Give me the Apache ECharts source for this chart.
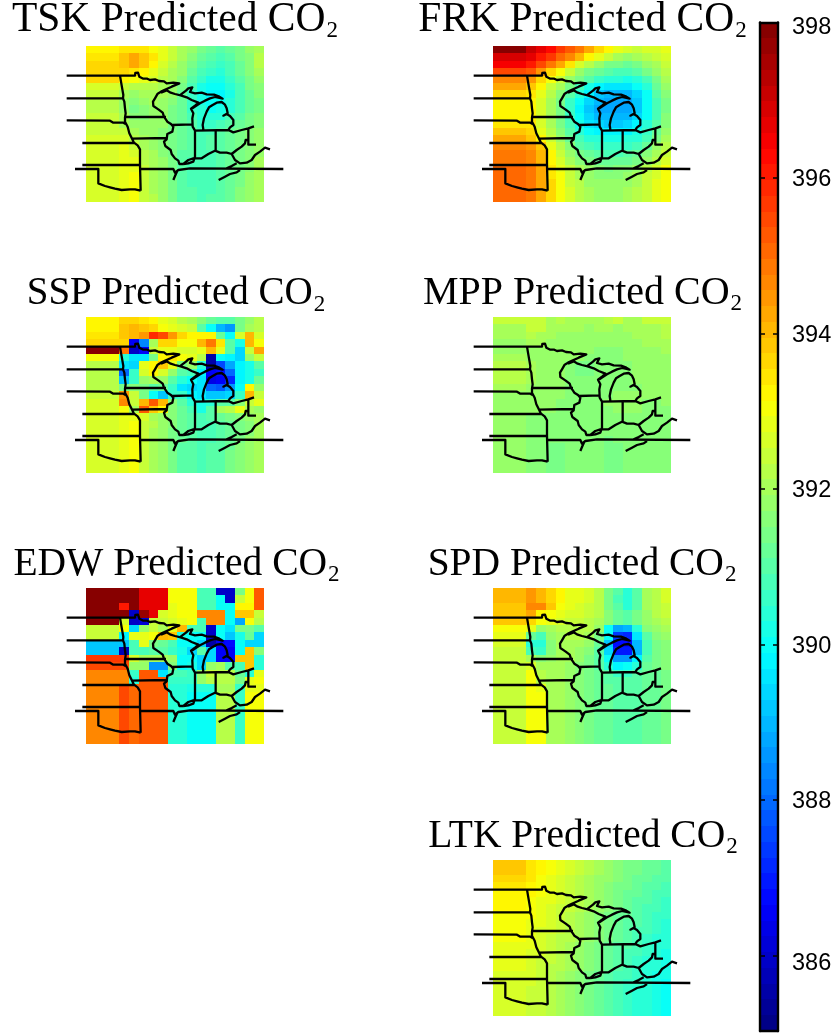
<!DOCTYPE html>
<html><head><meta charset="utf-8">
<style>html,body{margin:0;padding:0;background:#fff}#c{width:838px;height:1034px}</style>
<script src="https://cdn.jsdelivr.net/npm/echarts@6/dist/echarts.min.js"></script>
</head><body><div id="c"></div>
<script>
const colEdges=[78,178,207,237,266,295,323,352,381,410,438,467,496,525,554,583,612];
const rowCount=21;
const mapTop=138,mapBottom=605,mapLeft=20,mapRight=670;
const tskValues=[
[393.3,393.5,393.5,393.4,393.0,392.8,392.4,392.0,391.8,391.5,391.2,391.0,391.2,391.5,391.8,392.0],
[393.5,393.9,394.2,393.9,393.4,392.9,392.4,392.0,391.7,391.2,391.0,390.9,391.1,391.4,391.7,392.2],
[393.6,393.9,394.2,393.8,393.2,392.7,392.2,391.9,391.5,391.1,390.8,390.7,390.9,391.3,391.6,392.3],
[393.7,393.6,393.5,393.2,392.9,392.5,392.1,391.8,391.3,390.9,390.6,390.5,390.8,391.2,391.6,392.0],
[393.7,393.3,393.0,392.8,392.6,392.3,392.0,391.6,391.0,390.6,390.2,390.2,390.6,391.1,391.5,391.8],
[392.7,392.4,392.3,392.3,392.3,392.1,391.9,391.4,390.8,390.2,389.9,389.9,390.3,390.9,391.4,391.7],
[392.4,392.0,391.9,392.0,392.1,392.0,391.8,391.3,390.7,390.1,389.7,389.7,390.2,390.8,391.3,391.6],
[392.3,391.8,391.6,391.8,392.0,391.9,391.6,391.2,390.6,390.2,389.9,389.9,390.3,390.8,391.3,391.5],
[392.3,391.8,391.5,391.7,391.9,391.8,391.5,391.2,390.7,390.3,390.0,390.1,390.5,390.9,391.3,391.5],
[392.4,392.0,391.6,391.7,391.9,391.8,391.5,391.2,390.8,390.5,390.4,390.5,390.8,391.1,391.4,391.6],
[392.4,392.1,391.8,391.8,391.9,391.8,391.5,391.2,391.0,390.7,390.7,390.8,391.0,391.2,391.5,391.7],
[392.5,392.4,392.0,391.9,391.9,391.7,391.5,391.2,391.0,390.9,390.9,391.0,391.2,391.4,391.6,391.8],
[392.6,392.7,392.3,392.0,391.9,391.7,391.4,391.2,391.0,390.9,391.0,391.1,391.2,391.4,391.6,391.8],
[392.6,392.9,392.5,392.1,391.9,391.7,391.4,391.2,391.0,390.9,391.0,391.1,391.2,391.4,391.6,391.9],
[392.6,392.9,392.7,392.2,392.0,391.7,391.4,391.1,391.0,390.9,390.9,391.0,391.2,391.4,391.7,391.9],
[392.6,392.8,392.8,392.3,392.0,391.8,391.4,391.1,390.9,390.9,390.9,391.0,391.2,391.5,391.7,392.0],
[392.6,392.8,392.9,392.4,392.1,391.8,391.4,391.1,390.9,390.9,390.9,391.0,391.2,391.5,391.7,392.0],
[392.6,392.8,393.0,392.4,392.1,391.8,391.4,391.1,390.9,390.8,390.9,391.0,391.3,391.5,391.8,392.0],
[392.6,392.8,393.0,392.4,392.1,391.8,391.4,391.1,390.9,390.8,390.9,391.0,391.3,391.5,391.8,392.0],
[392.6,392.8,393.0,392.5,392.1,391.8,391.4,391.1,391.0,390.9,390.9,391.1,391.3,391.6,391.8,392.0],
[392.6,392.8,393.0,392.5,392.2,391.8,391.4,391.1,391.0,390.9,391.0,391.1,391.3,391.6,391.8,392.1]];
const frkValues=[
[397.8,397.0,396.6,396.3,395.7,395.2,394.8,394.2,393.7,393.2,392.9,392.7,392.5,392.6,392.7,392.8],
[396.9,396.6,396.1,395.6,395.1,394.6,394.0,393.3,392.8,392.4,392.1,391.9,392.0,392.2,392.4,392.6],
[396.4,396.0,395.5,394.8,394.2,393.4,392.7,392.2,391.8,391.5,391.4,391.3,391.5,391.8,392.1,392.4],
[395.5,395.2,394.5,393.7,393.0,392.4,391.9,391.5,391.2,391.0,390.8,390.8,391.0,391.4,391.8,392.2],
[394.7,394.4,393.6,393.0,392.4,391.9,391.4,391.0,390.6,390.4,390.3,390.2,390.5,390.9,391.5,392.0],
[394.2,393.8,393.2,392.5,392.0,391.4,390.8,390.2,389.8,389.6,389.5,389.6,389.9,390.5,391.2,391.8],
[393.6,393.4,392.8,392.2,391.7,391.0,390.3,389.7,389.2,389.0,388.9,389.0,389.4,390.0,391.0,391.6],
[393.2,393.2,392.6,392.0,391.5,390.7,390.0,389.3,388.9,388.7,388.7,388.7,389.1,389.9,390.9,391.5],
[393.2,393.2,392.6,392.0,391.4,390.6,389.8,389.2,388.8,388.7,388.7,388.8,389.2,389.9,390.8,391.5],
[393.2,393.3,392.7,392.0,391.4,390.7,389.9,389.3,389.0,388.9,388.9,389.0,389.4,390.0,390.9,391.6],
[393.4,393.4,392.7,392.1,391.5,390.8,390.1,389.6,389.3,389.2,389.2,389.3,389.7,390.3,391.0,391.7],
[393.8,393.6,392.9,392.3,391.7,391.0,390.5,390.0,389.8,389.7,389.7,389.8,390.1,390.6,391.2,391.8],
[394.3,393.9,393.3,392.5,391.9,391.3,390.8,390.5,390.3,390.2,390.2,390.3,390.5,390.9,391.5,392.0],
[394.7,394.4,393.9,392.9,392.2,391.6,391.1,390.9,390.7,390.6,390.6,390.7,390.9,391.3,391.8,392.3],
[394.8,394.6,394.0,393.2,392.4,391.9,391.4,391.2,391.0,390.9,390.9,391.0,391.2,391.6,392.0,392.5],
[394.9,394.7,394.1,393.3,392.7,392.1,391.7,391.5,391.3,391.2,391.2,391.3,391.5,391.8,392.3,392.7],
[395.0,394.8,394.2,393.5,392.9,392.4,392.0,391.8,391.6,391.5,391.6,391.7,391.9,392.3,392.7,393.0],
[395.0,394.8,394.2,393.5,393.0,392.5,392.1,391.9,391.7,391.7,391.7,391.8,392.0,392.4,392.7,393.0],
[395.0,394.9,394.2,393.6,393.0,392.5,392.2,391.9,391.8,391.8,391.8,391.9,392.1,392.4,392.8,393.1],
[395.1,394.9,394.2,393.6,393.1,392.6,392.3,392.0,391.9,391.9,391.9,392.0,392.2,392.5,392.8,393.1],
[395.1,394.9,394.3,393.6,393.1,392.6,392.3,392.0,391.9,391.9,391.9,392.0,392.2,392.5,392.8,393.1]];
const sspValues=[
[393.2,393.6,393.6,393.5,393.2,392.9,392.7,392.3,392.0,391.6,391.2,391.0,391.0,391.5,391.8,392.2],
[393.2,393.8,394.1,393.8,393.6,393.0,392.8,392.6,392.5,391.0,390.0,388.9,388.6,391.5,392.0,392.3],
[393.5,393.9,394.1,394.4,395.9,395.4,394.5,393.7,393.2,393.2,393.2,391.3,390.0,392.6,394.0,392.6],
[393.6,393.6,386.5,388.4,392.0,393.6,393.7,393.0,393.0,394.1,394.8,393.5,391.0,390.2,394.0,393.0],
[397.8,394.8,386.0,386.6,392.5,392.8,392.8,392.7,392.6,392.8,394.0,392.8,391.0,389.3,392.5,394.2],
[393.0,390.5,389.6,389.6,391.5,393.3,393.4,393.0,392.8,392.2,385.6,390.0,389.8,389.4,391.9,392.4],
[392.2,389.6,389.4,392.8,393.3,393.8,392.8,391.5,391.9,390.5,385.6,387.5,388.7,389.8,390.2,391.0],
[392.2,387.9,390.6,392.6,393.2,392.7,391.9,391.0,390.8,389.8,386.6,386.7,388.0,389.8,390.2,390.6],
[392.3,389.1,390.6,391.8,392.0,391.9,391.0,390.4,390.0,389.6,386.3,386.5,387.2,389.7,390.2,391.3],
[392.3,391.5,391.7,391.5,391.0,391.2,390.7,389.6,389.3,389.5,387.9,387.8,388.5,389.9,393.2,391.8],
[392.4,394.5,392.4,391.5,390.0,389.2,390.6,390.7,389.7,389.6,389.2,389.2,389.3,390.6,394.0,392.4],
[392.6,394.6,392.5,394.1,395.2,394.1,391.7,391.0,390.5,390.2,390.5,391.0,391.0,391.6,392.5,392.9],
[392.6,393.0,392.0,395.2,393.9,393.2,391.7,391.3,390.8,390.1,391.0,392.0,392.3,392.8,392.0,391.9],
[392.6,392.8,392.9,392.6,392.1,391.9,391.7,391.3,391.0,390.9,391.0,391.2,391.4,391.6,391.9,392.1],
[392.6,392.8,393.0,392.5,392.2,391.9,391.6,391.3,391.0,390.9,390.9,391.0,391.2,391.4,391.7,392.0],
[392.6,392.8,393.0,392.5,392.1,391.9,391.5,391.2,391.0,390.9,390.9,391.0,391.2,391.5,391.7,392.0],
[392.6,392.8,393.0,392.4,392.1,391.8,391.5,391.2,391.0,390.9,390.9,391.0,391.3,391.5,391.8,392.0],
[392.6,392.8,393.0,392.4,392.1,391.8,391.4,391.1,391.0,390.9,391.0,391.1,391.3,391.6,391.8,392.1],
[392.6,392.8,393.0,392.4,392.1,391.8,391.4,391.1,391.0,390.9,391.0,391.1,391.4,391.6,391.8,392.1],
[392.6,392.8,393.0,392.4,392.1,391.8,391.4,391.1,391.0,390.9,391.0,391.1,391.4,391.6,391.8,392.1],
[392.6,392.8,393.0,392.4,392.1,391.8,391.4,391.1,391.0,390.9,391.0,391.1,391.4,391.6,391.8,392.1]];
const mppValues=[
[392.4,392.5,392.5,392.1,392.3,392.1,392.1,392.1,392.1,392.3,392.4,392.1,392.1,392.4,392.5,392.5],
[392.0,392.4,392.4,392.1,392.0,392.0,392.0,391.9,392.0,392.0,391.9,392.0,392.0,392.1,392.1,392.3],
[392.0,392.3,392.1,392.0,391.9,391.9,391.9,391.9,391.9,391.9,391.9,391.9,392.0,392.1,392.1,392.3],
[391.9,392.0,392.0,391.9,391.9,391.8,391.8,391.8,391.8,391.8,391.8,391.9,391.9,392.0,392.0,392.1],
[391.9,391.9,391.9,391.9,391.9,391.8,391.8,391.8,391.7,391.6,391.7,391.8,391.9,391.9,391.9,392.0],
[392.0,391.9,391.9,391.9,391.9,391.8,391.8,391.7,391.7,391.7,391.7,391.8,391.8,391.9,391.9,391.9],
[392.2,392.0,391.9,391.8,391.8,391.7,391.5,391.5,391.7,391.7,391.7,391.7,391.8,391.8,391.9,391.9],
[392.3,392.1,391.9,391.8,391.8,391.7,391.5,391.5,391.6,391.7,391.7,391.7,391.8,391.8,391.8,391.9],
[392.2,392.1,391.9,391.8,391.8,391.7,391.7,391.7,391.6,391.7,391.7,391.7,391.8,391.8,391.8,391.9],
[392.0,391.9,391.8,391.8,391.8,391.7,391.7,391.6,391.6,391.7,391.7,391.7,391.7,391.8,391.8,391.8],
[391.9,391.8,391.8,391.8,391.8,391.7,391.7,391.6,391.6,391.7,391.8,391.8,391.8,391.8,391.8,391.8],
[391.9,391.8,391.8,391.8,391.7,391.7,391.6,391.6,391.7,391.8,391.8,391.9,391.8,391.7,391.7,391.8],
[391.8,391.8,391.8,391.8,391.7,391.7,391.6,391.6,391.7,391.7,391.8,391.9,391.8,391.7,391.7,391.7],
[391.8,391.7,391.7,391.6,391.7,391.7,391.6,391.6,391.7,391.7,391.7,391.7,391.7,391.7,391.7,391.7],
[391.8,391.7,391.7,391.6,391.6,391.6,391.6,391.6,391.6,391.6,391.7,391.7,391.7,391.7,391.7,391.7],
[391.8,391.6,391.6,391.6,391.6,391.6,391.6,391.6,391.6,391.6,391.6,391.7,391.7,391.7,391.7,391.7],
[391.8,391.6,391.6,391.6,391.6,391.6,391.6,391.6,391.6,391.5,391.6,391.6,391.7,391.7,391.7,391.7],
[391.8,391.6,391.7,391.5,391.5,391.6,391.6,391.6,391.6,391.5,391.5,391.6,391.6,391.6,391.6,391.7],
[391.8,391.6,391.7,391.5,391.5,391.6,391.6,391.6,391.6,391.5,391.5,391.6,391.6,391.6,391.6,391.7],
[391.8,391.6,391.7,391.5,391.5,391.6,391.6,391.6,391.6,391.5,391.5,391.6,391.6,391.6,391.6,391.7],
[391.8,391.6,391.7,391.5,391.5,391.6,391.6,391.6,391.6,391.5,391.5,391.6,391.6,391.6,391.6,391.7]];
const edwValues=[
[397.9,397.9,397.9,396.7,396.7,396.7,393.1,393.1,393.1,390.8,390.8,386.0,386.0,391.4,393.1,395.3],
[397.9,397.9,397.9,396.7,396.7,396.7,393.1,393.1,393.1,390.8,390.8,390.0,386.0,392.5,393.1,395.3],
[397.9,396.0,397.9,396.7,396.7,396.7,392.8,393.1,393.1,390.8,390.8,390.0,390.0,393.2,393.2,395.3],
[397.9,397.9,386.0,397.7,396.7,392.6,392.9,393.0,393.1,394.7,394.7,394.7,389.9,393.8,393.8,392.5],
[397.9,392.7,386.0,386.2,392.5,392.4,392.6,392.8,393.0,390.8,394.7,394.7,390.0,388.8,393.1,392.3],
[392.5,393.0,389.4,391.8,392.5,392.0,392.8,394.0,390.8,390.8,386.0,390.0,389.5,391.4,391.4,391.0],
[392.5,389.8,392.8,392.9,393.0,394.0,393.9,390.2,390.0,389.9,385.9,390.0,389.2,390.1,391.3,389.4],
[389.2,389.2,390.9,392.8,391.5,391.2,390.9,390.0,389.9,389.4,385.5,386.5,386.7,390.0,389.3,389.3],
[389.2,385.8,390.9,390.8,391.0,391.0,390.6,390.1,389.4,391.0,389.4,386.6,386.6,390.0,393.8,391.7],
[395.6,395.6,392.6,392.0,392.0,392.0,391.9,390.0,389.9,389.3,389.4,386.5,386.5,393.8,393.8,390.3],
[395.5,395.5,391.8,391.9,388.5,388.6,391.7,390.0,390.1,389.4,391.8,392.0,391.0,390.8,393.9,390.5],
[394.7,394.7,390.7,395.2,395.2,389.5,390.9,390.8,390.7,391.8,392.4,392.2,392.2,391.2,390.4,392.8],
[394.7,394.7,390.4,395.2,395.2,395.2,390.6,390.6,390.6,391.8,392.3,392.2,392.2,391.4,392.8,393.0],
[394.7,395.5,395.0,395.2,395.2,395.2,390.5,390.5,390.1,390.4,390.4,392.0,392.0,390.7,392.9,392.9],
[394.7,395.5,395.0,395.2,395.2,395.2,390.5,390.5,389.9,389.9,389.9,392.2,392.2,390.7,393.0,393.0],
[394.7,395.5,395.0,395.2,395.2,395.2,390.5,390.5,389.9,389.9,389.9,392.2,392.2,390.7,393.0,393.0],
[394.7,395.5,395.0,395.2,395.2,395.2,390.5,390.5,389.9,389.9,389.9,392.2,392.2,390.7,393.0,393.0],
[394.7,395.5,395.0,395.2,395.2,395.2,390.5,390.5,389.9,389.9,389.9,392.2,392.2,390.7,393.0,393.0],
[394.7,395.5,395.0,395.2,395.2,395.2,390.5,390.5,389.9,389.9,389.9,392.2,392.2,390.7,393.0,393.0],
[394.7,395.5,395.0,395.2,395.2,395.2,390.5,390.5,389.9,389.9,389.9,392.2,392.2,390.7,393.0,393.0],
[394.7,395.5,395.0,395.2,395.2,395.2,390.5,390.5,389.9,389.9,389.9,392.2,392.2,390.7,393.0,393.0]];
const spdValues=[
[394.0,394.4,394.0,393.6,393.2,392.9,392.8,392.6,392.3,391.4,391.0,390.5,391.0,392.0,392.3,392.6],
[394.0,394.4,394.1,393.6,393.2,392.9,392.8,392.6,392.3,391.5,390.8,390.3,391.0,392.0,392.3,392.6],
[393.9,394.6,394.7,393.8,393.1,392.9,392.7,392.5,392.3,391.5,391.0,390.5,391.1,392.0,392.3,392.5],
[393.9,394.3,393.2,393.0,392.8,392.7,392.6,392.4,392.2,391.7,391.2,391.0,391.4,391.9,392.2,392.4],
[393.8,393.7,393.0,392.8,392.6,392.5,392.4,392.3,392.0,391.7,391.2,391.0,391.4,391.8,392.0,392.2],
[393.0,392.8,391.8,392.0,392.3,392.3,392.3,392.2,391.8,390.0,388.8,389.0,390.3,391.6,391.9,392.0],
[392.8,391.3,390.9,391.8,392.0,392.2,392.2,392.0,391.5,389.9,387.3,387.2,389.5,391.1,391.7,391.9],
[392.6,390.3,390.3,391.7,392.0,392.1,392.0,391.8,391.2,389.2,386.8,386.7,388.9,390.8,391.5,391.7],
[392.4,390.8,390.7,391.7,392.0,392.0,391.9,391.6,391.0,389.4,387.0,386.9,389.0,390.8,391.5,391.7],
[392.4,392.0,391.7,391.8,392.0,392.0,391.8,391.5,391.0,390.0,388.5,388.5,389.8,391.0,391.5,391.7],
[392.4,392.7,392.1,392.0,392.1,391.9,391.7,391.5,391.1,390.4,389.8,389.9,390.5,391.2,391.4,391.6],
[392.4,393.0,392.2,392.1,392.0,391.9,391.6,391.5,391.2,391.0,390.7,390.7,391.0,391.2,391.3,391.5],
[392.4,393.1,392.3,392.1,392.0,391.9,391.7,391.5,391.2,391.1,391.0,391.0,391.1,391.2,391.3,391.5],
[392.4,393.0,392.9,392.1,392.0,391.9,391.7,391.5,391.3,391.2,391.1,391.1,391.1,391.2,391.3,391.5],
[392.4,393.0,393.0,392.1,392.0,391.9,391.7,391.5,391.3,391.2,391.1,391.1,391.1,391.2,391.3,391.5],
[392.4,393.0,393.0,392.1,392.0,391.9,391.7,391.5,391.3,391.2,391.1,391.1,391.1,391.2,391.3,391.5],
[392.4,393.0,393.0,392.1,392.0,391.9,391.7,391.5,391.3,391.2,391.1,391.1,391.1,391.2,391.3,391.5],
[392.4,393.0,393.0,392.1,392.0,391.9,391.7,391.5,391.3,391.2,391.1,391.1,391.1,391.2,391.3,391.5],
[392.4,393.0,393.0,392.1,392.0,391.9,391.7,391.5,391.3,391.2,391.1,391.1,391.1,391.2,391.3,391.5],
[392.4,393.0,393.0,392.1,392.0,391.9,391.7,391.5,391.3,391.2,391.1,391.1,391.1,391.2,391.3,391.5],
[392.4,393.0,393.0,392.1,392.0,391.9,391.7,391.5,391.3,391.2,391.1,391.1,391.1,391.2,391.3,391.5]];
const ltkValues=[
[393.8,393.5,393.2,393.0,392.8,392.6,392.4,392.2,392.0,391.8,391.6,391.5,391.4,391.3,391.2,391.1],
[393.8,393.5,393.2,393.0,392.8,392.6,392.4,392.2,392.0,391.8,391.6,391.5,391.4,391.3,391.2,391.0],
[393.6,393.4,393.1,392.9,392.7,392.5,392.3,392.1,391.9,391.8,391.6,391.4,391.3,391.2,391.1,391.0],
[393.4,393.3,393.1,392.9,392.7,392.5,392.3,392.1,391.9,391.7,391.5,391.4,391.3,391.1,391.0,390.9],
[393.3,393.2,393.0,392.8,392.6,392.4,392.2,392.1,391.9,391.7,391.5,391.3,391.2,391.1,390.9,390.8],
[393.2,393.1,392.9,392.8,392.6,392.4,392.2,392.0,391.8,391.6,391.4,391.3,391.1,391.0,390.8,390.7],
[393.2,393.0,392.9,392.7,392.5,392.4,392.2,392.0,391.8,391.6,391.4,391.2,391.1,390.9,390.8,390.6],
[393.1,393.0,392.8,392.7,392.5,392.3,392.1,391.9,391.7,391.5,391.3,391.2,391.0,390.9,390.7,390.6],
[393.1,392.9,392.8,392.6,392.4,392.3,392.1,391.9,391.7,391.5,391.3,391.1,391.0,390.8,390.6,390.5],
[393.0,392.9,392.7,392.6,392.4,392.2,392.0,391.8,391.6,391.4,391.2,391.1,390.9,390.8,390.6,390.4],
[393.0,392.8,392.7,392.5,392.3,392.2,392.0,391.8,391.6,391.4,391.2,391.0,390.9,390.7,390.5,390.3],
[392.9,392.8,392.6,392.5,392.3,392.1,391.9,391.7,391.5,391.3,391.1,391.0,390.8,390.6,390.5,390.3],
[392.9,392.7,392.6,392.4,392.2,392.1,391.9,391.7,391.5,391.3,391.1,390.9,390.8,390.6,390.4,390.2],
[392.8,392.7,392.5,392.4,392.2,392.0,391.8,391.6,391.4,391.2,391.0,390.9,390.7,390.5,390.3,390.2],
[392.8,392.6,392.5,392.3,392.2,392.0,391.8,391.6,391.4,391.2,391.0,390.8,390.7,390.5,390.3,390.1],
[392.7,392.6,392.4,392.3,392.1,391.9,391.7,391.5,391.3,391.1,390.9,390.8,390.6,390.4,390.2,390.1],
[392.7,392.6,392.4,392.3,392.1,391.9,391.7,391.5,391.3,391.1,390.9,390.7,390.6,390.4,390.2,390.0],
[392.7,392.5,392.4,392.2,392.1,391.9,391.7,391.5,391.3,391.1,390.9,390.7,390.5,390.3,390.2,390.0],
[392.6,392.5,392.4,392.2,392.0,391.8,391.6,391.4,391.2,391.0,390.8,390.7,390.5,390.3,390.1,389.9],
[392.6,392.5,392.4,392.2,392.0,391.8,391.6,391.4,391.2,391.0,390.8,390.6,390.4,390.3,390.1,389.9],
[392.6,392.5,392.4,392.2,392.0,391.8,391.6,391.4,391.2,391.0,390.8,390.6,390.4,390.3,390.1,389.9]];

const stateBorders=[
[[20,227],[225,227],[226,219],[234,218],[238,230],[250,236],[262,236],[270,240],[285,238],[297,243],[312,244],[320,250],[340,248],[358,250],[335,260],[318,268],[303,275],[293,281],[285,295],[279,305],[280,318],[295,328],[308,338],[312,350],[318,352],[322,365],[333,372],[340,380],[337,395],[322,402],[318,408],[320,418],[312,425],[316,438],[332,450],[335,462],[345,475],[355,482],[358,492],[370,492]],
[[180,227],[183,245],[186,262],[190,285],[189,295],[193,305],[195,325],[197,340],[195,352],[195,365],[203,380],[208,400],[214,412],[222,428],[233,436],[240,448],[240,495],[242,572]],
[[20,295],[190,295]],
[[20,361],[150,362],[160,368],[190,368],[197,372]],
[[197,351],[318,351]],
[[215,416],[322,414]],
[[67,429],[222,429]],
[[67,495],[240,495]],
[[45,507],[115,507],[115,550],[135,558],[150,562],[165,566],[185,570],[210,568],[225,568],[242,572]],
[[240,507],[340,507],[345,518],[355,510],[390,505],[670,507]],
[[340,540],[345,528],[352,512]],
[[335,375],[398,373]],
[[303,278],[320,271],[332,278],[345,282],[362,286],[380,292],[395,300],[415,308],[404,318],[393,326],[400,340],[397,355],[398,380],[405,392],[405,470],[400,485],[385,490],[370,492]],
[[362,284],[378,272],[385,265],[397,262],[390,276],[405,280],[425,278],[440,283],[462,284],[478,290],[488,296],[465,291],[450,295],[435,302],[420,310],[405,320],[393,328]],
[[430,388],[428,375],[432,355],[440,335],[447,322],[458,315],[470,308],[485,306],[495,314],[500,325],[503,340],[490,347],[485,345],[500,342],[510,348],[520,360],[520,375],[510,382],[505,390]],
[[405,392],[505,390],[520,397],[545,390],[565,385],[582,379]],
[[467,390],[467,452]],
[[565,385],[565,434],[588,434]],
[[370,492],[385,480],[400,475],[425,475],[445,462],[465,452],[480,458],[500,458],[515,462],[530,450],[545,440],[555,430],[557,420],[565,420]],
[[515,462],[525,480],[540,490],[560,488],[575,480],[585,465],[600,455],[615,443],[630,448]],
[[500,505],[515,498],[530,490]],
[[476,540],[495,530],[510,522],[530,517],[540,510]]];

const panelNames=['TSK','FRK','SSP','MPP','EDW','SPD','LTK'];
const panelValues=[tskValues,frkValues,sspValues,mppValues,edwValues,spdValues,ltkValues];
const colorbarTicks=[386,388,390,392,394,396,398];
const colorMin=385.03,colorMax=398,colorLevels=64;

const panelBoxes=[[86,46],[493,46],[86,317],[493,317],[86,588],[493,588],[493,860]];
const titleCenters=[175,582.5,176,582.5,176.5,582,583];
const titleSizes=[41.5,41.5,39,40,39.5,39.5,39.5];
const pxPerUnit=1/3;

function jet(i){
  const t=(i+0.5)/colorLevels;
  const f=c=>Math.round(255*Math.max(0,Math.min(1,1.5-Math.abs(4*t-c))));
  return 'rgb('+f(3)+','+f(2)+','+f(1)+')';
}
function colorOf(v){
  const i=Math.max(0,Math.min(colorLevels-1,Math.floor((v-colorMin)/(colorMax-colorMin)*colorLevels)));
  return jet(i);
}
const rowStep=(mapBottom-mapTop)/rowCount;
function snapRect(a,b,col){
  const x0=Math.round(a[0]),y0=Math.round(a[1]),x1=Math.round(b[0]),y1=Math.round(b[1]);
  return {type:'rect',shape:{x:x0,y:y0,width:x1-x0,height:y1-y0},style:{fill:col}};
}
function cellItem(params,api){
  const c=api.value(0),r=api.value(1);
  return snapRect(api.coord([colEdges[c],mapTop+r*rowStep]),api.coord([colEdges[c+1],mapTop+(r+1)*rowStep]),colorOf(api.value(2)));
}
const borderLine=[];
stateBorders.forEach((p,i)=>{if(i)borderLine.push(['-','-']);p.forEach(q=>borderLine.push(q));});

const grid=[],xAxis=[],yAxis=[],series=[],title=[];
panelNames.forEach((name,k)=>{
  grid.push({left:panelBoxes[k][0]-(colEdges[0]-mapLeft)*pxPerUnit,top:panelBoxes[k][1],width:(mapRight-mapLeft)*pxPerUnit,height:(mapBottom-mapTop)*pxPerUnit});
  xAxis.push({type:'value',gridIndex:k,min:mapLeft,max:mapRight,show:false});
  yAxis.push({type:'value',gridIndex:k,min:mapTop,max:mapBottom,inverse:true,show:false});
  const data=[];
  panelValues[k].forEach((row,r)=>row.forEach((v,c)=>data.push([c,r,v])));
  series.push({type:'custom',xAxisIndex:k,yAxisIndex:k,data,renderItem:cellItem,clip:false,z:2,silent:true,encode:{x:0,y:1}});
  series.push({type:'line',xAxisIndex:k,yAxisIndex:k,data:borderLine,showSymbol:false,symbol:'none',clip:false,connectNulls:false,z:3,silent:true,lineStyle:{color:'#000',width:2.3,join:'round'}});
  title.push({text:'{t|'+name+' Predicted CO}{s|2}',left:titleCenters[k]-5,top:panelBoxes[k][1]-50-(titleSizes[k]-39),textAlign:'center',
    textStyle:{fontWeight:'normal',rich:{t:{fontFamily:'Liberation Serif',fontWeight:'normal',fontSize:titleSizes[k],lineHeight:44,color:'#000'},s:{fontFamily:'Liberation Serif',fontWeight:'normal',fontSize:23,lineHeight:26,verticalAlign:'bottom',color:'#000',padding:[8,0,0,1]}}}});
});
// colorbar
const cb=panelNames.length;
grid.push({left:760,top:22.5,width:18,height:1008.5});
const cbLine={show:true,lineStyle:{color:'#000',width:2.4}};
xAxis.push({type:'value',gridIndex:cb,position:'bottom',min:0,max:1,axisLine:{...cbLine,onZero:false},axisTick:{show:false},axisLabel:{show:false},splitLine:{show:false},z:5});
xAxis.push({type:'value',gridIndex:cb,position:'top',min:0,max:1,axisLine:{...cbLine,onZero:false},axisTick:{show:false},axisLabel:{show:false},splitLine:{show:false},z:5});
const tickInside={show:true,inside:true,length:5,lineStyle:{color:'#000',width:1.5},customValues:colorbarTicks};
yAxis.push({type:'value',gridIndex:cb,position:'right',min:colorMin,max:colorMax,axisLine:{...cbLine,onZero:false},axisTick:tickInside,splitLine:{show:false},
  axisLabel:{show:true,margin:14,customValues:colorbarTicks,fontFamily:'Liberation Sans',fontSize:23.5,color:'#000',
    formatter:v=>{const n=Math.round(v);return n===386?'{low|386}':n===398?'{top|398}':'{mid|'+n+'}';},
    rich:{low:{fontFamily:'Liberation Sans',fontSize:23.5,color:'#000',padding:[15,0,0,0]},top:{fontFamily:'Liberation Sans',fontSize:23.5,color:'#000',padding:[11,0,0,0]},mid:{fontFamily:'Liberation Sans',fontSize:23.5,color:'#000',padding:[3,0,0,0]}}},z:5});
yAxis.push({type:'value',gridIndex:cb,position:'left',min:colorMin,max:colorMax,axisLine:{...cbLine,onZero:false},axisTick:tickInside,axisLabel:{show:false},splitLine:{show:false},z:5});
const levels=[];
for(let i=0;i<colorLevels;i++)levels.push([i]);
const step=(colorMax-colorMin)/colorLevels;
series.push({type:'custom',xAxisIndex:cb,yAxisIndex:cb,data:levels,silent:true,z:2,encode:{y:0},renderItem(p,api){
  const i=api.value(0);
  return snapRect(api.coord([0,colorMin+(i+1)*step]),api.coord([1,colorMin+i*step]),jet(i));
}});
const chart=echarts.init(document.getElementById('c'),null,{renderer:'canvas'});
chart.setOption({animation:false,backgroundColor:'#fff',title,grid,xAxis,yAxis,series});
</script></body></html>
